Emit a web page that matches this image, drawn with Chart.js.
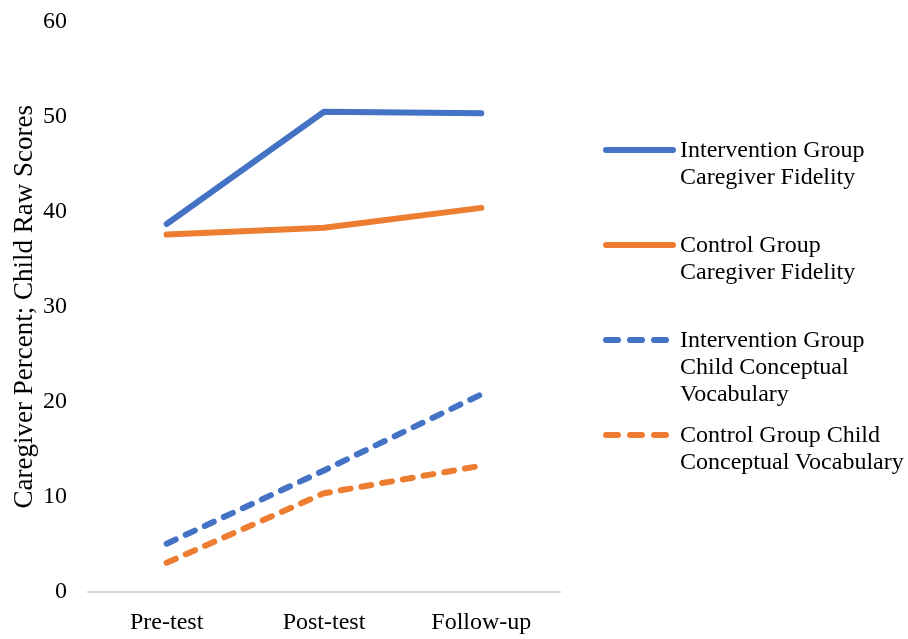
<!DOCTYPE html>
<html>
<head>
<meta charset="utf-8">
<script src="https://cdn.jsdelivr.net/npm/chart.js@4.4.0/dist/chart.umd.min.js"></script>
<style>
  body { margin: 0; background: #fff; }
  #wrap { position: relative; width: 908px; height: 639px; overflow: hidden; }
  #chart { position: absolute; left: 0; top: -14px; }
  #legend { position: absolute; left: 603px; top: 136px; font-family: "Liberation Serif", "Times New Roman", serif; font-size: 24px; color: #000; }
  .item { display: flex; align-items: flex-start; }
  .item canvas { margin-top: 9px; margin-right: 4px; }
  .item div { line-height: 27px; }
</style>
</head>
<body>
<div id="wrap">
  <canvas id="chart" width="908" height="657"></canvas>
  <div id="legend"></div>
</div>
<script>
const timepoints = ["Pre-test", "Post-test", "Follow-up"];
const interventionFidelity = [38.7, 50.5, 50.35];
const controlFidelity = [37.6, 38.3, 40.4];
const interventionVocab = [5.1, 12.8, 20.8];
const controlVocab = [3.1, 10.4, 13.3];
const seriesNames = [
    ["Intervention Group", "Caregiver Fidelity"],
    ["Control Group", "Caregiver Fidelity"],
    ["Intervention Group", "Child Conceptual", "Vocabulary"],
    ["Control Group Child", "Conceptual Vocabulary"]
];

const blue = "#4472C4";
const orange = "#ED7D31";
const dash = [10, 11];

function series(label, data, color, isDashed) {
    return {
        label: label.join(" "),
        data: data,
        borderColor: color,
        backgroundColor: color,
        borderWidth: 6,
        borderDash: isDashed ? dash : [],
        borderCapStyle: "round",
        borderJoinStyle: "round",
        pointRadius: 0,
        tension: 0,
        fill: false
    };
}

const serif = "'Liberation Serif', 'Times New Roman', serif";

const chart = new Chart(document.getElementById("chart").getContext("2d"), {
    type: "line",
    data: {
        labels: timepoints,
        datasets: [
            series(seriesNames[0], interventionFidelity, blue, false),
            series(seriesNames[1], controlFidelity, orange, false),
            series(seriesNames[2], interventionVocab, blue, true),
            series(seriesNames[3], controlVocab, orange, true)
        ]
    },
    options: {
        responsive: false,
        animation: false,
        layout: { padding: { top: -5, right: 348, bottom: -10, left: 0 } },
        plugins: {
            legend: { display: false },
            tooltip: { enabled: false }
        },
        scales: {
            x: {
                offset: true,
                grid: { display: false, drawTicks: false },
                border: { color: "#d9d9d9", width: 2 },
                ticks: { color: "#000", font: { family: serif, size: 24 }, padding: 16 }
            },
            y: {
                min: 0,
                max: 60,
                grid: { display: false, drawTicks: false },
                border: { display: false },
                ticks: { stepSize: 10, color: "#000", font: { family: serif, size: 24 }, padding: 21 },
                title: {
                    display: true,
                    text: "Caregiver Percent; Child Raw Scores",
                    color: "#000",
                    font: { family: serif, size: 27 },
                    padding: 9
                },
                afterFit: (scale) => { scale.width = 88; }
            }
        }
    }
});

// legend with wrapped text, like the original
const legend = document.getElementById("legend");
const tops = [0, 95, 190, 285];
chart.data.datasets.forEach((ds, i) => {
    const item = document.createElement("div");
    item.className = "item";
    item.style.position = "absolute";
    item.style.top = tops[i] + "px";
    item.style.left = "0px";
    item.style.whiteSpace = "nowrap";
    const swatch = document.createElement("canvas");
    swatch.width = 73;
    swatch.height = 10;
    const c = swatch.getContext("2d");
    c.strokeStyle = ds.borderColor;
    c.lineWidth = 6;
    c.lineCap = "round";
    c.setLineDash(ds.borderDash.length ? [12, 12] : []);
    c.beginPath();
    c.moveTo(3, 5);
    c.lineTo(70, 5);
    c.stroke();
    const text = document.createElement("div");
    text.innerHTML = seriesNames[i].join("<br>");
    item.appendChild(swatch);
    item.appendChild(text);
    legend.appendChild(item);
});
</script>
</body>
</html>
